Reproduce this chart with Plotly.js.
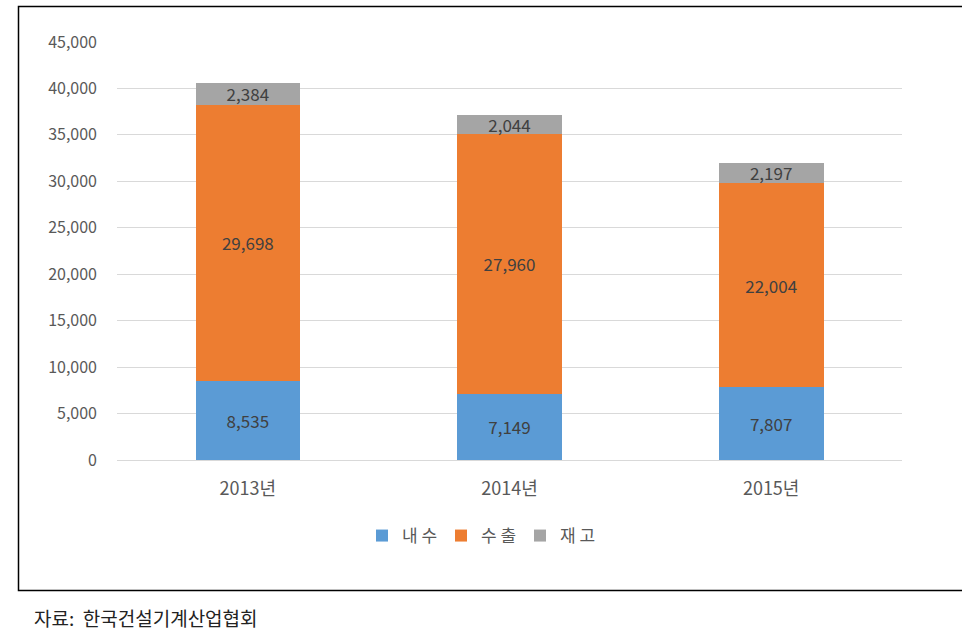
<!DOCTYPE html>
<html>
<head>
<meta charset="utf-8">
<script src="https://cdn.plot.ly/plotly-3.0.1.min.js"></script>
<style>
html,body{margin:0;padding:0;background:#fff;}
#chart{width:962px;height:642px;}
</style>
</head>
<body>
<div id="chart"></div>
<script>
const categories = ['2013년', '2014년', '2015년'];
const domestic = [8535, 7149, 7807];
const exportsVals = [29698, 27960, 22004];
const inventory = [2384, 2044, 2197];
const seriesNames = ['내 수', '수 출', '재 고'];
const yTicks = [0, 5000, 10000, 15000, 20000, 25000, 30000, 35000, 40000, 45000];
const sourceText = '자료:  한국건설기계산업협회';

const font = '"Noto Sans CJK KR", "Noto Sans", sans-serif';
const colors = ['#5B9BD5', '#ED7D31', '#A5A5A5'];
const series = [domestic, exportsVals, inventory];

const traces = series.map((vals, i) => ({
  type: 'bar',
  name: seriesNames[i],
  x: categories,
  y: vals,
  marker: {color: colors[i], line: {width: 0}},
  text: vals.map(v => v.toLocaleString('en-US')),
  textposition: 'inside',
  insidetextanchor: 'middle',
  textangle: 0,
  constraintext: 'none',
  textfont: {family: font, size: 17, color: '#404040'},
  hoverinfo: 'skip'
}));

// paper coordinate helpers: plot area x 117..902, y 42..460
const px = x => (x - 117) / 785;
const py = y => (460 - y) / 418;

const layout = {
  width: 962,
  height: 642,
  margin: {l: 117, r: 60, t: 42, b: 182},
  paper_bgcolor: '#ffffff',
  plot_bgcolor: '#ffffff',
  barmode: 'stack',
  bargap: 0.6,
  showlegend: true,
  legend: {
    orientation: 'h',
    x: px(362), xanchor: 'left',
    y: py(536), yanchor: 'middle',
    font: {family: font, size: 17, color: '#595959'},
    traceorder: 'normal',
    itemwidth: 30,
    entrywidth: 34,
    entrywidthmode: 'pixels',
    tracegroupgap: 0
  },
  xaxis: {
    type: 'category',
    showgrid: false,
    showline: false,
    zeroline: false,
    ticks: '',
    ticklabelstandoff: 16,
    tickfont: {family: font, size: 18, color: '#595959'},
    fixedrange: true
  },
  yaxis: {
    range: [0, 45000],
    tickvals: yTicks,
    ticktext: yTicks.map(v => v.toLocaleString('en-US')),
    showgrid: true,
    gridcolor: '#D9D9D9',
    gridwidth: 1,
    zeroline: true,
    zerolinecolor: '#D9D9D9',
    zerolinewidth: 1,
    showline: false,
    ticks: '',
    ticklabelstandoff: 19,
    tickfont: {family: font, size: 16, color: '#595959'},
    fixedrange: true
  },
  shapes: [{
    type: 'rect',
    xref: 'paper', yref: 'paper',
    x0: px(18.5), x1: px(965),
    y0: py(590.5), y1: py(6.5),
    line: {color: '#000000', width: 1.5},
    fillcolor: 'rgba(0,0,0,0)',
    layer: 'below'
  }],
  annotations: [{
    xref: 'paper', yref: 'paper',
    x: px(32), xanchor: 'left',
    y: py(617), yanchor: 'middle',
    text: sourceText,
    showarrow: false,
    font: {family: font, size: 19, color: '#222222'}
  }]
};

Plotly.newPlot('chart', traces, layout, {displayModeBar: false, staticPlot: true});
</script>
</body>
</html>
